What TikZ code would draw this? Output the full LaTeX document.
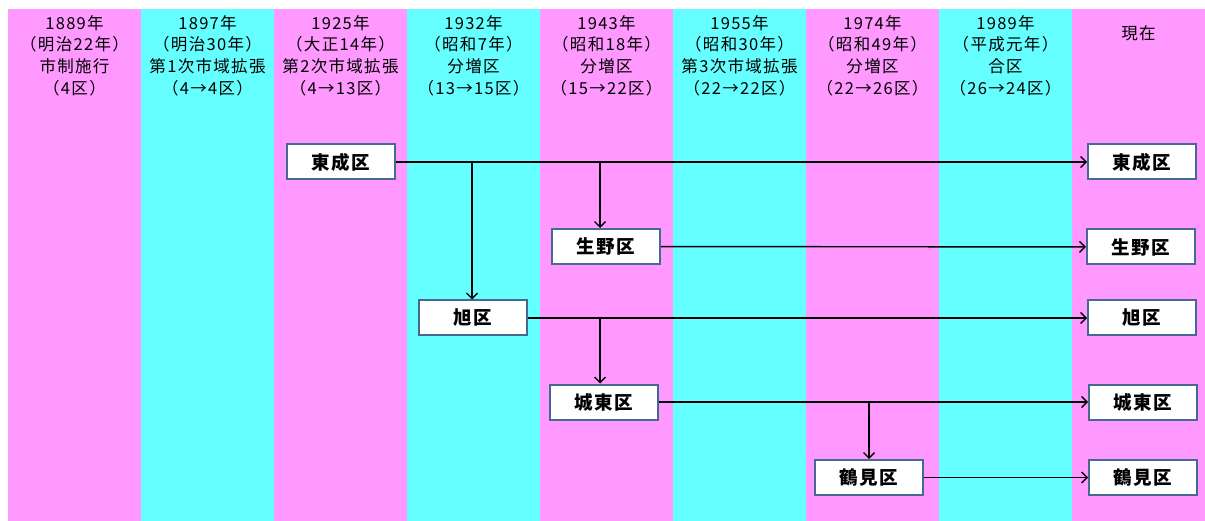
\documentclass[tikz,border=0pt]{standalone}
\usepackage{fontspec}
\newfontfamily\jp[LetterSpace=8]{Noto Sans CJK JP}
\usetikzlibrary{arrows.meta}
\definecolor{colpink}{RGB}{255,153,255}
\definecolor{colcyan}{RGB}{102,255,255}
\definecolor{boxedge}{RGB}{70,105,145}
\tikzset{
  hdr/.style={align=center,font=\jp\fontsize{16.5}{21.7}\selectfont,inner sep=0pt},
  ward/.style={draw=boxedge,line width=2pt,fill=white,minimum width=108pt,minimum height=35pt,inner sep=0pt,font=\jp\bfseries\fontsize{18.5}{20}\selectfont},
  link/.style={line width=1.4pt,-{Straight Barb[length=5.5pt,width=11pt,line width=1.4pt]}},
}
\begin{document}
\begin{tikzpicture}[x=1pt,y=-1pt]
\useasboundingbox (0,0) rectangle (1205,521);
% columns
\foreach \i/\c in {0/colpink,1/colcyan,2/colpink,3/colcyan,4/colpink,5/colcyan,6/colpink,7/colcyan,8/colpink}{
  \fill[\c] ({8+133*\i},9) rectangle ({8+133*(\i+1)},521);
}
% headers
\node[hdr] (h1) at (74.5,55.5) {1889年\\（明治22年）\\市制施行\\（4区）};
\node[hdr] (h2) at (207.5,55.5) {1897年\\（明治30年）\\第1次市域拡張\\（4→4区）};
\node[hdr] (h3) at (340.5,55.5) {1925年\\（大正14年）\\第2次市域拡張\\（4→13区）};
\node[hdr] (h4) at (473.5,55.5) {1932年\\（昭和7年）\\分増区\\（13→15区）};
\node[hdr] (h5) at (606.5,55.5) {1943年\\（昭和18年）\\分増区\\（15→22区）};
\node[hdr] (h6) at (739.5,55.5) {1955年\\（昭和30年）\\第3次市域拡張\\（22→22区）};
\node[hdr] (h7) at (872.5,55.5) {1974年\\（昭和49年）\\分増区\\（22→26区）};
\node[hdr] (h8) at (1005.5,55.5) {1989年\\（平成元年）\\合区\\（26→24区）};
\node[hdr] (h9) at (1138.5,33) {現在};
% wards
\node[ward] (higa) at (341,162) {東成区};
\node[ward] (ikuno) at (606,246.5) {生野区};
\node[ward] (asahi) at (473,318) {旭区};
\node[ward] (joto) at (604,402) {城東区};
\node[ward] (tsuru) at (869,477.5) {鶴見区};
\node[ward] (higaR) at (1142,162) {東成区};
\node[ward] (ikunoR) at (1141,247) {生野区};
\node[ward] (asahiR) at (1142,318) {旭区};
\node[ward] (jotoR) at (1143,402) {城東区};
\node[ward] (tsuruR) at (1143,477.5) {鶴見区};
% connectors
\draw[link] (higa) -- (higaR);
\draw[link] (ikuno) -- (ikunoR);
\draw[link] (asahi) -- (asahiR);
\draw[link] (joto) -- (jotoR);
\draw[link] (tsuru) -- (tsuruR);
\coordinate (b1) at (472,162);
\coordinate (b2) at (600,162);
\coordinate (b3) at (600,318);
\coordinate (b4) at (869,402);
\draw[link] (b1) -- (b1 |- asahi.north);
\draw[link] (b2) -- (b2 |- ikuno.north);
\draw[link] (b3) -- (b3 |- joto.north);
\draw[link] (b4) -- (b4 |- tsuru.north);
\end{tikzpicture}
\end{document}
